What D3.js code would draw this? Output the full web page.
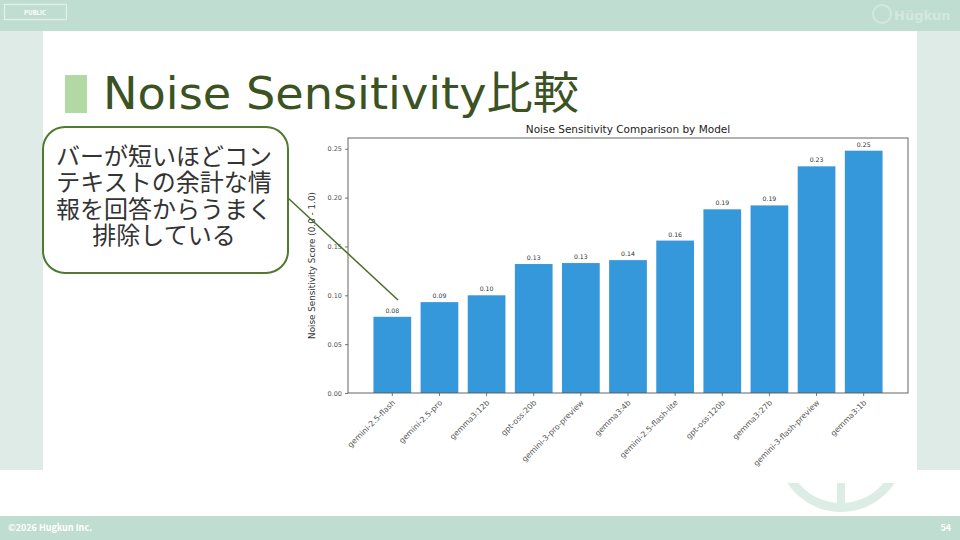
<!DOCTYPE html>
<meta charset="utf-8">
<style>
body { margin: 0; }
svg { display: block; }
</style>
<svg width="960" height="540"></svg>
<script src="https://cdnjs.cloudflare.com/ajax/libs/d3/7.8.5/d3.min.js"></script>
<script>

var models = ["gemini-2.5-flash", "gemini-2.5-pro", "gemma3:12b", "gpt-oss:20b",
  "gemini-3-pro-preview", "gemma3:4b", "gemini-2.5-flash-lite", "gpt-oss:120b",
  "gemma3:27b", "gemini-3-flash-preview", "gemma3:1b"];
var scores = [0.078, 0.093, 0.100, 0.132, 0.133, 0.136, 0.156, 0.188, 0.192, 0.232, 0.248];
var yTicks = [0, 0.05, 0.10, 0.15, 0.20, 0.25];
var calloutLines = ["バーが短いほどコン", "テキストの余計な情", "報を回答からうまく", "排除している"];

var svg = d3.select("svg"),
    width = +svg.attr("width"),
    height = +svg.attr("height");

var jp = "'Noto Sans CJK JP', 'Noto Sans', sans-serif",
    mpl = "'DejaVu Sans', sans-serif";

// slide frame
svg.append("rect").attr("width", width).attr("height", height).attr("fill", "#fff");
svg.append("rect").attr("width", width).attr("height", 31).attr("fill", "#c0ddd1");
svg.append("rect").attr("y", 31).attr("width", 43).attr("height", 439).attr("fill", "#dfebe6");
svg.append("rect").attr("x", 917).attr("y", 31).attr("width", 43).attr("height", 439).attr("fill", "#dfebe6");
svg.append("rect").attr("y", 516).attr("width", width).attr("height", 24).attr("fill", "#c0ddd1");

svg.append("rect").attr("x", 4.5).attr("y", 4.5).attr("width", 62).attr("height", 15)
    .attr("fill", "none").attr("stroke", "#e4f0eb").attr("stroke-width", 1.2);
svg.append("text").attr("x", 35).attr("y", 15).attr("text-anchor", "middle")
    .attr("font-family", jp).attr("font-size", 6).attr("font-weight", "bold")
    .attr("fill", "#fff").text("PUBLIC");

// logo top right
svg.append("circle").attr("cx", 882).attr("cy", 14).attr("r", 9)
    .attr("fill", "none").attr("stroke", "#d3e8df").attr("stroke-width", 2);
svg.append("text").attr("x", 894).attr("y", 20).attr("font-family", mpl)
    .attr("font-size", 13).attr("font-weight", "bold").attr("fill", "#d3e8df").text("Hügkun");

// faint logo arc bottom right, clipped at the content panel
svg.append("clipPath").attr("id", "logoclip")
  .append("rect").attr("x", 760).attr("y", 483).attr("width", 160).attr("height", 33);
var arc = d3.arc().innerRadius(55).outerRadius(64).startAngle(0).endAngle(Math.PI * 2);
var logo = svg.append("g").attr("clip-path", "url(#logoclip)");
logo.append("path").attr("d", arc()).attr("transform", "translate(841,448)").attr("fill", "#dcede6");
logo.append("rect").attr("x", 837).attr("y", 483).attr("width", 8).attr("height", 21).attr("fill", "#dcede6");

svg.append("text").attr("x", 8).attr("y", 531).attr("font-family", jp).attr("font-size", 9)
    .attr("font-weight", "bold").attr("fill", "#fff").text("©2026 Hugkun Inc.");
svg.append("text").attr("x", 951).attr("y", 531).attr("text-anchor", "end").attr("font-family", jp)
    .attr("font-size", 9).attr("font-weight", "bold").attr("fill", "#fff").text("54");

// slide title
svg.append("rect").attr("x", 65).attr("y", 75).attr("width", 22).attr("height", 38).attr("fill", "#b2d8a4");
svg.append("text").attr("x", 103).attr("y", 109)
    .attr("font-family", "'DejaVu Sans', 'Noto Sans CJK JP', sans-serif").attr("font-size", 44)
    .attr("fill", "#3b5323").attr("textLength", 476).attr("lengthAdjust", "spacingAndGlyphs")
    .text("Noise Sensitivity比較");

// chart
var plot = {left: 348, right: 908, top: 138, bottom: 393};

var x = d3.scaleBand().domain(models).range([plot.left, plot.right])
    .paddingInner(0.2).paddingOuter(0.54);
var y = d3.scaleLinear().domain([0, 0.261]).range([plot.bottom, plot.top]);

var g = svg.append("g");

g.selectAll(".bar")
  .data(scores)
  .enter().append("rect")
    .attr("class", "bar")
    .attr("x", function(d, i) { return x(models[i]); })
    .attr("y", function(d) { return y(d); })
    .attr("width", x.bandwidth())
    .attr("height", function(d) { return y(0) - y(d); })
    .attr("fill", "#3498db");

g.selectAll(".val")
  .data(scores)
  .enter().append("text")
    .attr("class", "val")
    .attr("x", function(d, i) { return x(models[i]) + x.bandwidth() / 2; })
    .attr("y", function(d) { return y(d) - 4; })
    .attr("text-anchor", "middle")
    .attr("font-family", mpl).attr("font-size", 6.2).attr("fill", "#333")
    .text(function(d) { return d.toFixed(2); });

var yAxis = g.append("g").attr("transform", "translate(" + plot.left + ",0)")
    .call(d3.axisLeft(y).tickValues(yTicks).tickSize(3).tickPadding(3).tickFormat(d3.format(".2f")));
var xAxis = g.append("g").attr("transform", "translate(0," + plot.bottom + ")")
    .call(d3.axisBottom(x).tickSize(3).tickPadding(2));

[yAxis, xAxis].forEach(function(a) {
  a.select(".domain").remove();
  a.selectAll("line").attr("stroke", "#555").attr("stroke-width", 0.8);
  a.selectAll("text").attr("font-family", mpl).attr("fill", "#555");
});
yAxis.selectAll("text").attr("font-size", 6.5);
xAxis.selectAll("text")
    .attr("font-size", 7.8)
    .attr("text-anchor", "end")
    .attr("dy", "0.35em")
    .attr("transform", "translate(0,4) rotate(-45)")
    .attr("x", -2).attr("y", 4);

g.append("rect").attr("x", plot.left).attr("y", plot.top)
    .attr("width", plot.right - plot.left).attr("height", plot.bottom - plot.top)
    .attr("fill", "none").attr("stroke", "#555").attr("stroke-width", 0.9);

g.append("text").attr("x", (plot.left + plot.right) / 2).attr("y", 133)
    .attr("text-anchor", "middle").attr("font-family", mpl).attr("font-size", 10.5)
    .attr("fill", "#222").text("Noise Sensitivity Comparison by Model");

g.append("text").attr("transform", "translate(315," + ((plot.top + plot.bottom) / 2) + ") rotate(-90)")
    .attr("text-anchor", "middle").attr("font-family", mpl).attr("font-size", 8.8)
    .attr("fill", "#333").text("Noise Sensitivity Score (0.0 - 1.0)");

// callout
svg.append("line").attr("x1", 288).attr("y1", 198).attr("x2", 398).attr("y2", 300)
    .attr("stroke", "#4a6e2a").attr("stroke-width", 1.5);
svg.append("rect").attr("x", 43).attr("y", 127).attr("width", 245).attr("height", 146)
    .attr("rx", 22).attr("fill", "#fff").attr("stroke", "#4f7a30").attr("stroke-width", 2);
svg.append("text")
    .attr("text-anchor", "middle")
    .attr("font-family", jp).attr("font-size", 24).attr("fill", "#333")
  .selectAll("tspan")
  .data(calloutLines)
  .enter().append("tspan")
    .attr("x", 164)
    .attr("y", function(d, i) { return 164.5 + i * 26.5; })
    .text(function(d) { return d; });

</script>
